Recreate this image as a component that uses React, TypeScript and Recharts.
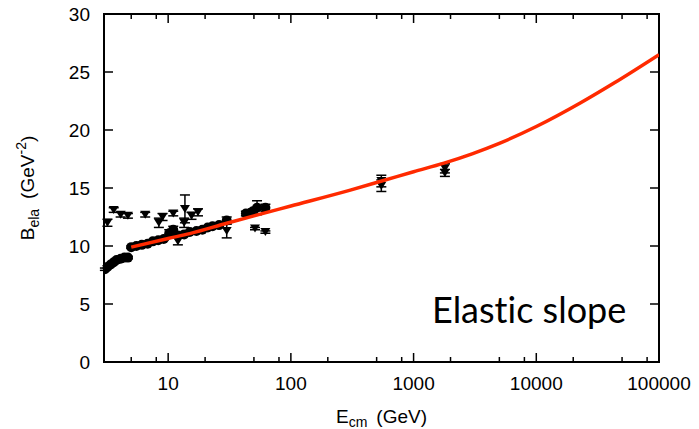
import React from 'react';
import { ComposedChart, Scatter, XAxis, YAxis, ErrorBar, ReferenceArea } from 'recharts';

// ---- data ----
const circleEnergy = [3.05, 3.2, 3.4, 3.6, 3.8, 4.1, 4.4, 4.7, 5.0, 5.5, 6.1, 6.8, 7.5, 8.3, 9.2, 10.2, 11.0, 12.0, 13.5, 15.0, 17.0, 19.0, 21.0, 23.0, 26.0, 30.0, 43.0, 49.0, 53.0, 62.0];
const circleSlope = [8.0, 8.2, 8.4, 8.6, 8.8, 8.9, 9.0, 9.0, 9.9, 10.0, 10.1, 10.2, 10.4, 10.5, 10.6, 11.1, 11.4, 10.9, 11.0, 11.2, 11.3, 11.4, 11.6, 11.7, 11.8, 12.2, 12.8, 13.0, 13.3, 13.3];
const circleError = [0.1, 0.1, 0.1, 0.1, 0.1, 0.1, 0.1, 0.1, 0.1, 0.1, 0.1, 0.1, 0.1, 0.1, 0.1, 0.3, 0.3, 0.1, 0.1, 0.1, 0.1, 0.1, 0.1, 0.1, 0.1, 0.3, 0.2, 0.2, 0.6, 0.3];

const triangleEnergy = [3.2, 3.6, 4.1, 4.7, 6.5, 8.4, 9.0, 11.0, 12.0, 13.7, 13.5, 15.5, 17.5, 30.0, 51.0, 62.0, 546, 546, 1800, 1800];
const triangleSlope = [12.0, 13.1, 12.7, 12.6, 12.7, 12.0, 12.5, 12.8, 10.4, 13.2, 12.0, 12.6, 12.9, 11.3, 11.5, 11.2, 15.2, 15.6, 16.3, 16.7];
const triangleError = [0.3, 0.2, 0.2, 0.2, 0.2, 0.4, 0.3, 0.2, 0.3, 1.2, 0.4, 0.3, 0.3, 0.6, 0.1, 0.1, 0.5, 0.5, 0.3, 0.4];

const fitEnergy = [5, 10, 15, 30, 50, 100, 300, 550, 1000, 1770, 3000, 5000, 10000, 23000, 43000, 100000];
const fitSlope = [9.9, 10.65, 11.07, 11.96, 12.6, 13.45, 14.8, 15.6, 16.4, 17.15, 17.95, 18.85, 20.3, 22.35, 24.05, 26.5];

const xMajorTicks = [10, 100, 1000, 10000, 100000];
const xMinorTicks = [5, 8, 20, 50, 80, 200, 500, 800, 2000, 5000, 8000, 20000, 50000, 80000];
const yTicks = [0, 5, 10, 15, 20, 25, 30];

const circleData = circleEnergy.map((x, i) => ({ x, y: circleSlope[i], err: circleError[i] }));
const triangleData = triangleEnergy.map((x, i) => ({ x, y: triangleSlope[i], err: triangleError[i] }));
const fitData = fitEnergy.map((x, i) => ({ x, y: fitSlope[i] }));

// ---- layout ----
const W = 699;
const H = 429;
const M = { top: 14, right: 40, bottom: 27, left: 0 };
const YAXIS_W = 104;
const XAXIS_H = 40;
const PL = M.left + YAXIS_W;
const PR = W - M.right;
const PT = M.top;
const PB = H - M.bottom - XAXIS_H;
const FONT = '"Liberation Sans", Arial, Helvetica, sans-serif';

const XTick = (props: any) => {
  const { x, payload } = props;
  const v = payload.value;
  const major = xMajorTicks.includes(v);
  const len = major ? 9 : 5;
  return (
    <g>
      <line x1={x} x2={x} y1={PB} y2={PB - len} stroke="#000" strokeWidth={1.5} />
      <line x1={x} x2={x} y1={PT} y2={PT + len} stroke="#000" strokeWidth={1.5} />
      {major && (
        <text x={x} y={PB + 28} textAnchor="middle" fontSize={19} fontFamily={FONT} fill="#000">
          {v}
        </text>
      )}
    </g>
  );
};

const YTick = (props: any) => {
  const { y, payload } = props;
  return (
    <g>
      <line x1={PL} x2={PL + 9} y1={y} y2={y} stroke="#000" strokeWidth={1.5} />
      <line x1={PR} x2={PR - 9} y1={y} y2={y} stroke="#000" strokeWidth={1.5} />
      <text x={PL - 14} y={y + 7} textAnchor="end" fontSize={19} fontFamily={FONT} fill="#000">
        {payload.value}
      </text>
    </g>
  );
};

const Circle = (props: any) => {
  const { cx, cy } = props;
  if (cx == null || cy == null) return <g />;
  return <circle cx={cx} cy={cy} r={5} fill="#000" />;
};

const DownTriangle = (props: any) => {
  const { cx, cy } = props;
  if (cx == null || cy == null) return <g />;
  return <polygon points={`${cx - 5},${cy - 4} ${cx + 5},${cy - 4} ${cx},${cy + 4}`} fill="#000" />;
};

const NoDot = () => <g />;

export default function App() {
  return (
    <div style={{ position: 'relative', width: W, height: H, marginTop: -8, marginLeft: -8 }}>
      <ComposedChart width={W} height={H} margin={M}>
        <XAxis
          dataKey="x"
          type="number"
          scale="log"
          domain={[3, 100000]}
          allowDataOverflow
          ticks={[...xMinorTicks, ...xMajorTicks].sort((a, b) => a - b)}
          interval={0}
          tick={<XTick />}
          tickLine={false}
          axisLine={false}
          height={XAXIS_H}
        />
        <YAxis
          dataKey="y"
          type="number"
          domain={[0, 30]}
          ticks={yTicks}
          interval={0}
          tick={<YTick />}
          tickLine={false}
          axisLine={false}
          width={YAXIS_W}
          allowDataOverflow
        />
        <ReferenceArea x1={3} x2={100000} y1={0} y2={30} fill="none" stroke="#000" strokeWidth={2} ifOverflow="visible" />
        <Scatter data={circleData} shape={<Circle />} isAnimationActive={false}>
          <ErrorBar dataKey="err" direction="y" width={5} stroke="#000" strokeWidth={1.5} />
        </Scatter>
        <Scatter data={triangleData} shape={<DownTriangle />} isAnimationActive={false}>
          <ErrorBar dataKey="err" direction="y" width={5} stroke="#000" strokeWidth={1.5} />
        </Scatter>
        <Scatter
          data={fitData}
          shape={<NoDot />}
          line={{ stroke: '#ff2a00', strokeWidth: 3.5 }}
          lineType="joint"
          lineJointType="monotoneX"
          isAnimationActive={false}
        />
        <text x={(PL + PR) / 2} y={H - 6} textAnchor="middle" fontSize={19} fontFamily={FONT} fill="#000">
          <tspan>E</tspan>
          <tspan dy={4} fontSize={14}>cm</tspan>
          <tspan dy={-4} dx={9}>(GeV)</tspan>
        </text>
        <text
          transform={`translate(34, ${(PT + PB) / 2}) rotate(-90)`}
          x={0}
          y={0}
          textAnchor="middle"
          fontSize={19}
          fontFamily={FONT}
          fill="#000"
        >
          <tspan>B</tspan>
          <tspan dy={5} fontSize={14}>ela</tspan>
          <tspan dy={-5} dx={10}>(GeV</tspan>
          <tspan dy={-8} fontSize={14}>-2</tspan>
          <tspan dy={8}>)</tspan>
        </text>
        <text
          x={432}
          y={323}
          fontSize={36}
          fontFamily="Lato, sans-serif"
          fill="#000"
          style={{ fontVariantLigatures: 'none', fontFeatureSettings: '"liga" 0' }}
        >
          Elastic slope
        </text>
      </ComposedChart>
    </div>
  );
}
